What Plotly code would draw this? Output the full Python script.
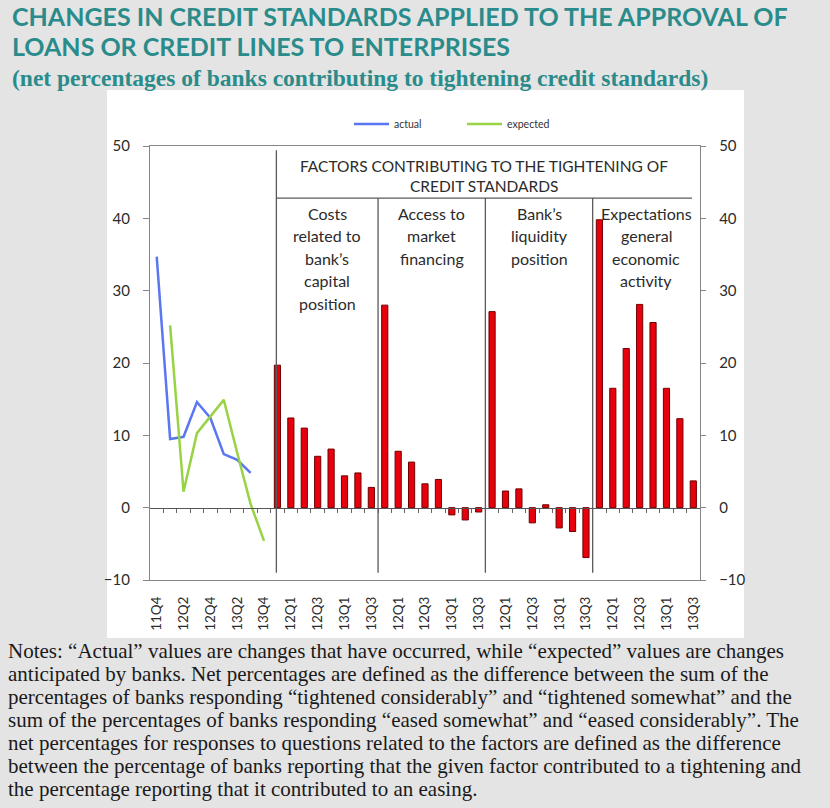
import plotly.graph_objects as go

# ---------------- data ----------------
line_quarters = ["11Q4", "12Q1", "12Q2", "12Q3", "12Q4", "13Q1", "13Q2", "13Q3", "13Q4"]
actual = [34.7, 9.5, 9.8, 14.6, 12.4, 7.4, 6.6, 4.8, None]
expected = [None, 25.2, 2.2, 10.3, 12.6, 14.9, 7.6, 0.5, -4.6]

bar_quarters = ["11Q4", "12Q1", "12Q2", "12Q3", "12Q4", "13Q1", "13Q2", "13Q3"]
costs_capital = [19.7, 12.4, 11.0, 7.1, 8.1, 4.4, 4.8, 2.8]
market_financing = [28.0, 7.8, 6.3, 3.3, 3.9, -1.0, -1.7, -0.6]
liquidity_position = [27.1, 2.3, 2.6, -2.1, 0.4, -2.8, -3.3, -6.9]
economic_activity = [39.8, 16.5, 22.0, 28.1, 25.6, 16.5, 12.3, 3.7]

factor_series = [costs_capital, market_financing, liquidity_position, economic_activity]
factor_labels = [
    ["Costs", "related to", "bank\u2019s", "capital", "position"],
    ["Access to", "market", "financing"],
    ["Bank\u2019s", "liquidity", "position"],
    ["Expectations", "general", "economic", "activity"],
]
header_lines = ["FACTORS CONTRIBUTING TO THE TIGHTENING OF", "CREDIT STANDARDS"]

title_lines = ["CHANGES IN CREDIT STANDARDS APPLIED TO THE APPROVAL OF",
               "LOANS OR CREDIT LINES TO ENTERPRISES"]
subtitle = "(net percentages of banks contributing to tightening credit standards)"
notes_lines = [
    "Notes: \u201cActual\u201d values are changes that have occurred, while \u201cexpected\u201d values are changes",
    "anticipated by banks. Net percentages are defined as the difference between the sum of the",
    "percentages of banks responding \u201ctightened considerably\u201d and \u201ctightened somewhat\u201d and the",
    "sum of the percentages of banks responding \u201ceased somewhat\u201d and \u201ceased considerably\u201d. The",
    "net percentages for responses to questions related to the factors are defined as the difference",
    "between the percentage of banks reporting that the given factor contributed to a tightening and",
    "the percentage reporting that it contributed to an easing.",
]

y_min, y_max, y_step = -10, 50, 10

# ---------------- layout helpers ----------------
W, H = 830, 808
L, R, T, B = 150, 700, 146, 580  # plot area in pixels


def px2x(px):
    return (px - L) / (R - L)


def py2y(py):
    return (B - py) / (B - T)


categories = line_quarters + bar_quarters * len(factor_series)
n_cat = len(categories)
x_line = list(range(len(line_quarters)))
group_start = [len(line_quarters) + g * len(bar_quarters) for g in range(len(factor_series))]

TEAL = "#2a8b8b"
AX = "#868686"
DIV = "#5a5a5a"
CHART_FONT = "Lato"
BG = "#e4e4e4"

fig = go.Figure()

# lines
fig.add_trace(go.Scatter(x=x_line, y=actual, mode="lines", name="actual",
                         line=dict(color="#5b76f2", width=2.5)))
fig.add_trace(go.Scatter(x=x_line, y=expected, mode="lines", name="expected",
                         line=dict(color="#98d245", width=2.5)))

# bars
for g, vals in enumerate(factor_series):
    xs = [group_start[g] + i for i in range(len(vals))]
    fig.add_trace(go.Bar(x=xs, y=vals, width=0.46, showlegend=False,
                         marker=dict(color="#e8000c", line=dict(color="#6e0000", width=1))))

# helper invisible traces for secondary axes
fig.add_trace(go.Scatter(x=[0], y=[0], xaxis="x2", yaxis="y", mode="markers",
                         marker=dict(opacity=0), showlegend=False, hoverinfo="skip"))
fig.add_trace(go.Scatter(x=[0], y=[0], xaxis="x", yaxis="y2", mode="markers",
                         marker=dict(opacity=0), showlegend=False, hoverinfo="skip"))

xrange = [-0.5, n_cat - 0.5]
yrange = [y_min, y_max]
tickvals_y = list(range(y_min, y_max + 1, y_step))

shapes = []
# white chart box
shapes.append(dict(type="rect", xref="paper", yref="paper", x0=px2x(107), x1=px2x(744),
                   y0=py2y(638), y1=py2y(90), fillcolor="white", line=dict(width=0), layer="below"))

# dividers
div_top_first = 49.4
div_top = 42.8
div_bottom = -9.0
first_div_x = group_start[0] - 0.08
shapes.append(dict(type="line", xref="x", yref="y", x0=first_div_x, x1=first_div_x,
                   y0=div_bottom, y1=div_top_first, line=dict(color=DIV, width=1.3)))
for g in range(1, len(factor_series)):
    xd = group_start[g] - 0.5
    shapes.append(dict(type="line", xref="x", yref="y", x0=xd, x1=xd,
                       y0=div_bottom, y1=div_top, line=dict(color=DIV, width=1.3)))
shapes.append(dict(type="line", xref="x", yref="y", x0=first_div_x, x1=n_cat - 1.1,
                   y0=div_top, y1=div_top, line=dict(color=DIV, width=1.3)))

annotations = []
# titles
for i, t in enumerate(title_lines):
    annotations.append(dict(text=t, xref="paper", yref="paper", x=px2x(10), y=py2y(16 + 30 * i),
                            xanchor="left", yanchor="middle", showarrow=False,
                            font=dict(family=CHART_FONT, size=25, color=TEAL, weight="bold")))
annotations.append(dict(text=subtitle, xref="paper", yref="paper", x=px2x(10), y=py2y(78),
                        xanchor="left", yanchor="middle", showarrow=False,
                        font=dict(family="Liberation Serif", size=23.5, color=TEAL, weight="bold")))
# header
header_center = (first_div_x + n_cat - 1.1) / 2
for i, t in enumerate(header_lines):
    annotations.append(dict(text=t, xref="x", yref="paper", x=header_center, y=py2y(166 + 20 * i),
                            xanchor="center", yanchor="middle", showarrow=False,
                            font=dict(family=CHART_FONT, size=15.5, color="#2b2b2b")))
# factor labels
for g, lines in enumerate(factor_labels):
    left = first_div_x if g == 0 else group_start[g] - 0.5
    right = group_start[g + 1] - 0.5 if g + 1 < len(factor_series) else n_cat - 0.5
    cx = (left + right) / 2
    for j, t in enumerate(lines):
        annotations.append(dict(text=t, xref="x", yref="paper", x=cx, y=py2y(213 + 22.5 * j),
                                xanchor="center", yanchor="middle", showarrow=False,
                                font=dict(family=CHART_FONT, size=16, color="#2b2b2b")))
# notes
for i, t in enumerate(notes_lines):
    annotations.append(dict(text=t, xref="paper", yref="paper", x=px2x(6), y=py2y(651 + 23 * i),
                            xanchor="left", yanchor="middle", showarrow=False,
                            font=dict(family="Liberation Serif", size=21, color="#1a1a1a")))

fig.update_layout(
    width=W, height=H,
    margin=dict(l=L, r=W - R, t=T, b=H - B, pad=0),
    paper_bgcolor=BG, plot_bgcolor="white",
    barmode="overlay",
    font=dict(family=CHART_FONT, color="#2b2b2b"),
    showlegend=True,
    legend=dict(orientation="h", x=px2x(349), y=py2y(124), xanchor="left", yanchor="middle",
                bgcolor="rgba(0,0,0,0)", font=dict(size=10.5, color="#333"),
                entrywidth=63, entrywidthmode="pixels", itemwidth=35,
                tracegroupgap=0),
    xaxis=dict(range=xrange, showline=True, linecolor=AX, linewidth=1.3, mirror=True,
               tickmode="array", tickvals=list(range(0, n_cat, 2)),
               ticktext=[categories[i] for i in range(0, n_cat, 2)],
               tickangle=-90, ticks="outside", ticklen=10, tickcolor="rgba(0,0,0,0)",
               tickfont=dict(size=13.5, color="#2b2b2b"), showgrid=False, zeroline=False),
    xaxis2=dict(range=xrange, overlaying="x", anchor="free", position=py2y(B - 72.33),
                showline=True, linecolor="#555", linewidth=1.3,
                tickmode="array", tickvals=[i + 0.5 for i in range(n_cat - 1)],
                ticks="outside", ticklen=4, tickcolor="#666", showticklabels=False,
                showgrid=False, zeroline=False),
    yaxis=dict(range=yrange, tickvals=tickvals_y, showline=True, linecolor=AX, linewidth=1.3,
               ticks="outside", ticklen=6, tickcolor=AX, ticklabelstandoff=10,
               tickfont=dict(size=15, color="#2b2b2b"), showgrid=False, zeroline=False),
    yaxis2=dict(range=yrange, tickvals=tickvals_y, overlaying="y", side="right",
                showline=True, linecolor=AX, linewidth=1.3,
                ticks="outside", ticklen=5, tickcolor=AX, ticklabelstandoff=10,
                tickfont=dict(size=15, color="#2b2b2b"), showgrid=False, zeroline=False),
    shapes=shapes,
    annotations=annotations,
)

fig.write_html("out.html", config={"displayModeBar": False},
               post_script="document.body.style.margin='0';document.body.style.background='%s';" % BG)
